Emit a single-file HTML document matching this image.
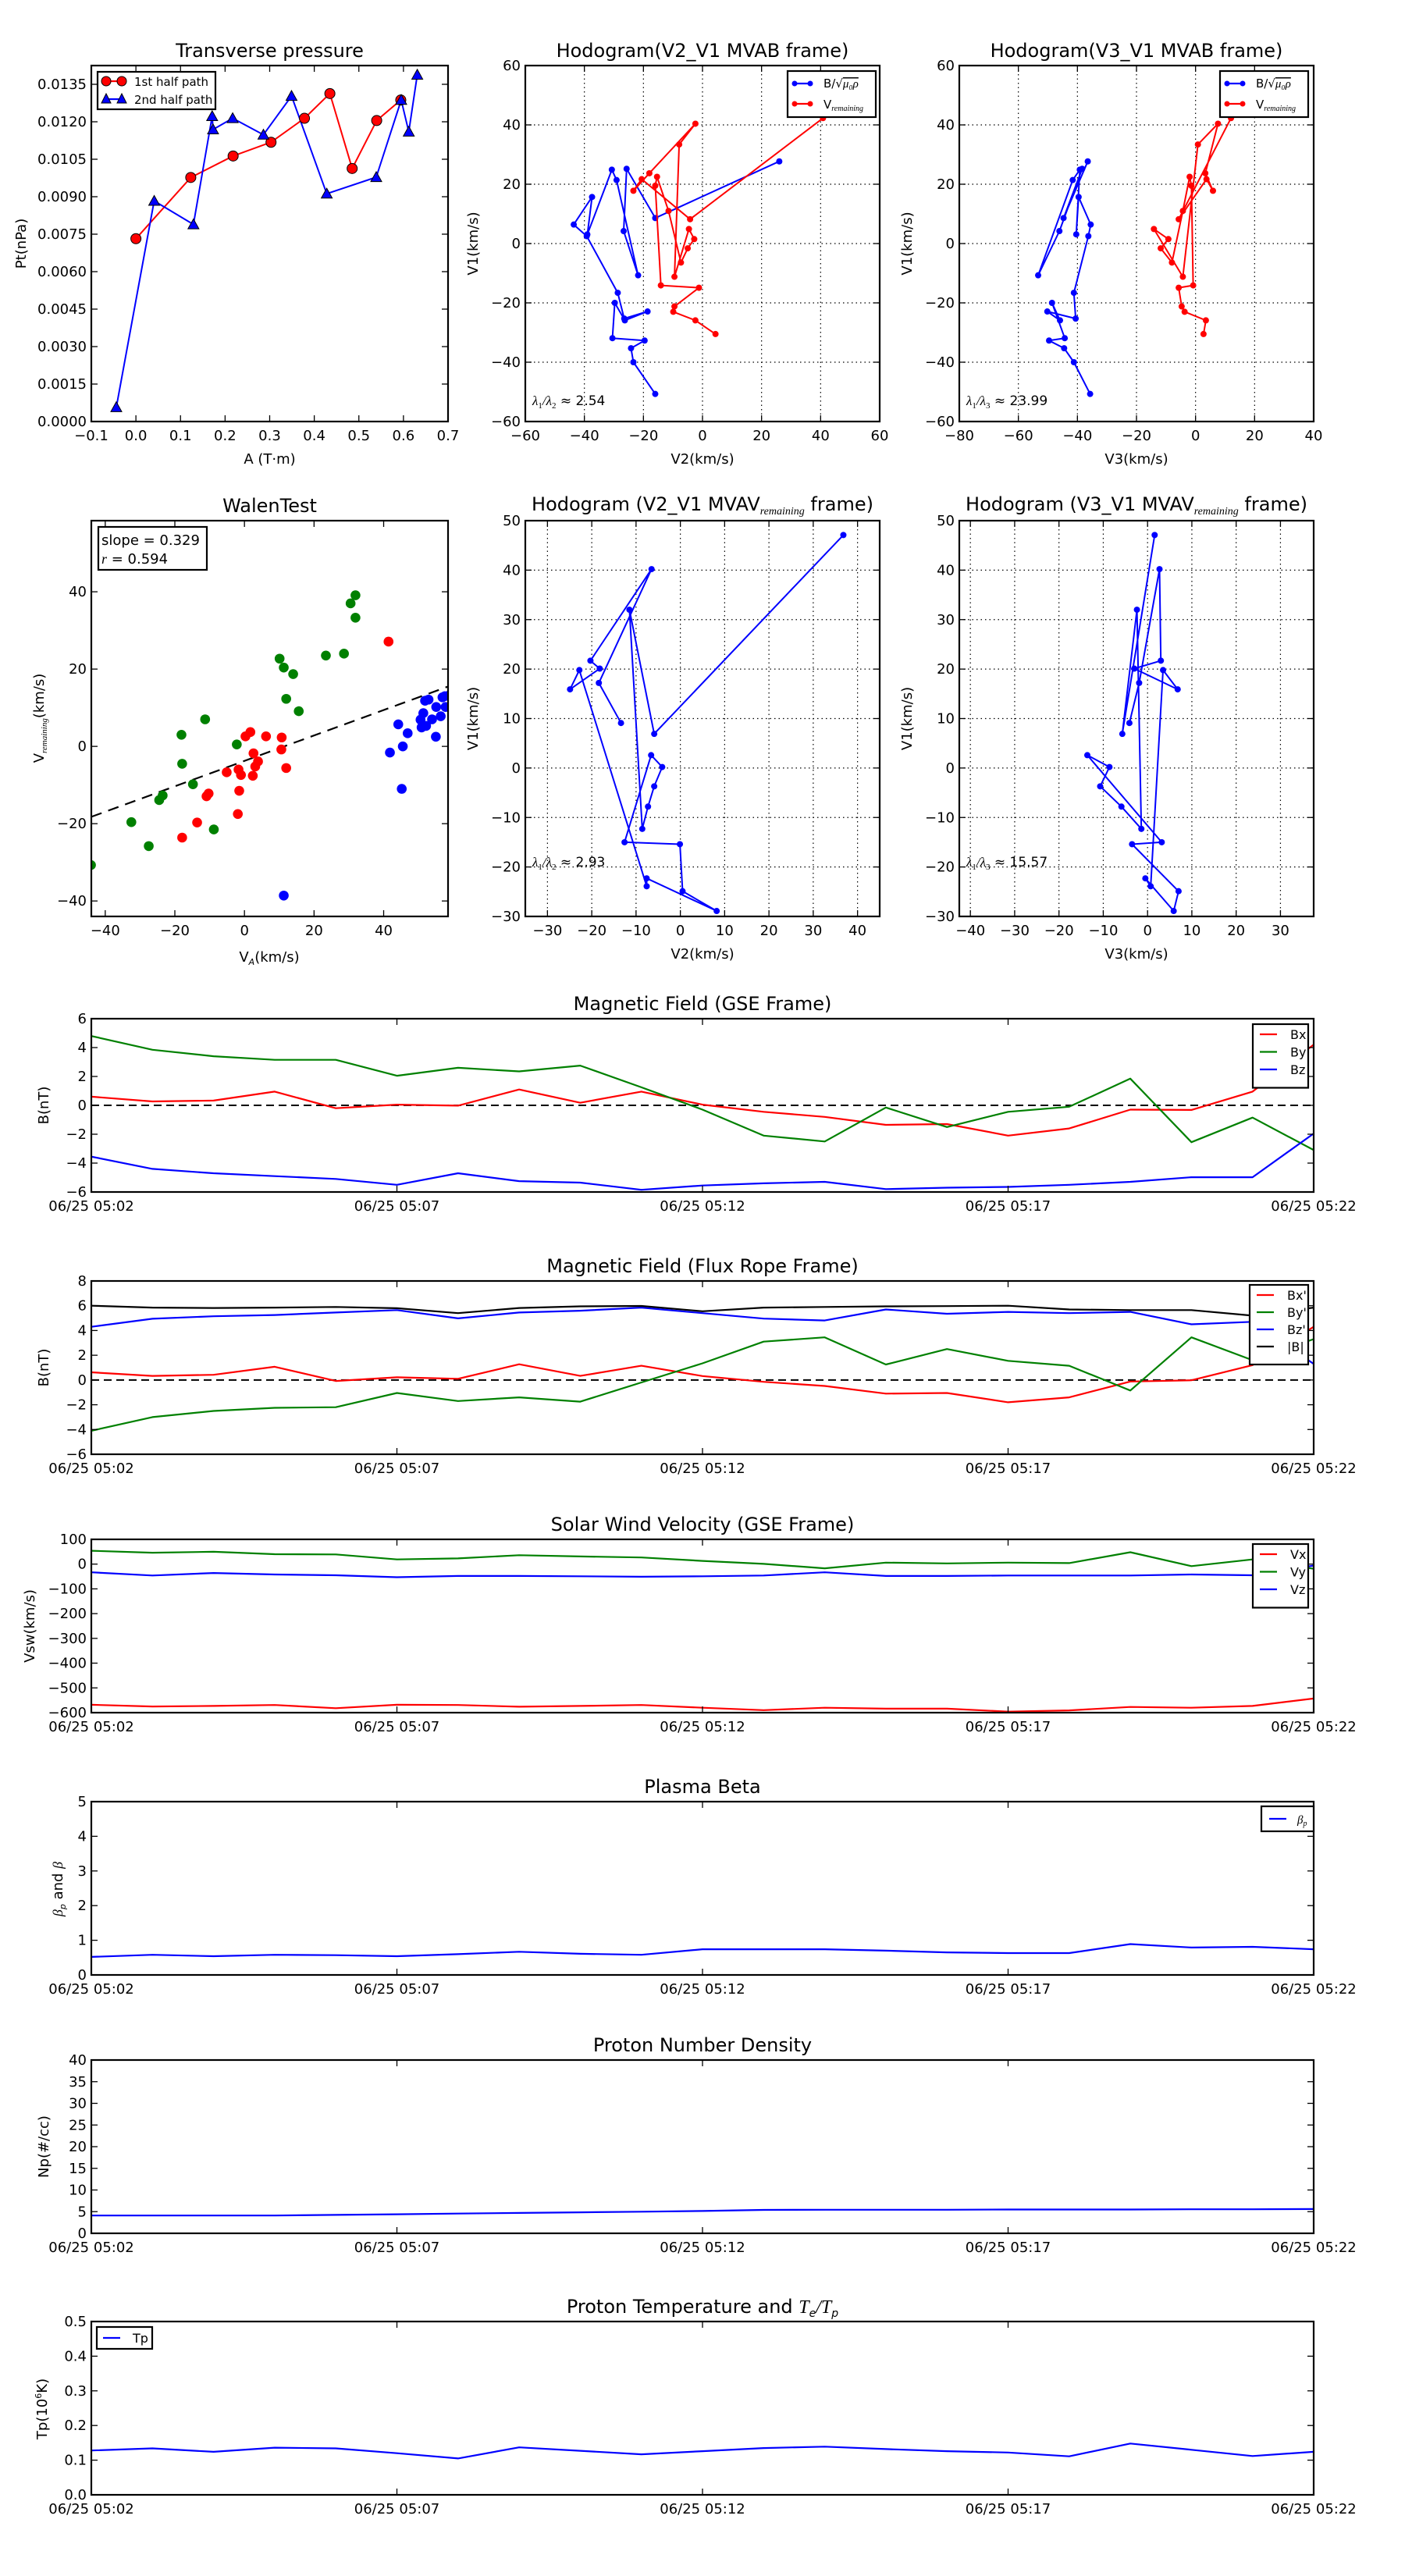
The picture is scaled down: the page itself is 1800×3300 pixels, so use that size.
<!DOCTYPE html>
<html><head><meta charset="utf-8">
<style>
html,body{margin:0;padding:0;background:#fff;}
svg{display:block;font-family:"DejaVu Sans","Liberation Sans",sans-serif;}
</style></head>
<body>
<svg id="fig" xmlns="http://www.w3.org/2000/svg" width="1800" height="3300" viewBox="0 0 1800 3300">
<rect x="0" y="0" width="1800" height="3300" fill="#fff"/>
</svg>
<script>
// ---------- DATA ----------
// Transverse pressure
const tpA1 = [0.0, 0.123, 0.218, 0.303, 0.378, 0.435, 0.485, 0.540, 0.594];
const tpP1 = [0.00732, 0.00977, 0.01063, 0.01118, 0.01214, 0.01313, 0.01013, 0.01205, 0.01287];
const tpA2 = [-0.044, 0.041, 0.129, 0.171, 0.173, 0.217, 0.286, 0.349, 0.428, 0.539, 0.595, 0.612, 0.631];
const tpP2 = [0.00057, 0.00883, 0.00789, 0.01222, 0.01169, 0.01214, 0.01148, 0.01303, 0.00912, 0.00978, 0.01287, 0.01160, 0.01388];
const tpXTicks = [-0.1, 0.0, 0.1, 0.2, 0.3, 0.4, 0.5, 0.6, 0.7];
const tpYTicks = [0, 0.0015, 0.003, 0.0045, 0.006, 0.0075, 0.009, 0.0105, 0.012, 0.0135];
// MVAB hodograms (B and V_remaining)
const mvabB1 = [-50.7,-40,-35.3,-32.7,-31.9,-20,-25.9,-22.9,-25.3,-16.6,2.5,6.4,15.7,3.1,24.9,21.4,-10.7,4.2,25.2,8.6,27.7];
const mvabB2 = [-16,-23.4,-24.2,-19.6,-30.5,-29.7,-26.3,-18.6,-26.5,-28.7,-39.2,-43.6,-37.4,-39,-30.7,-29.1,-21.8,-26.7,-25.7,-16,26];
const mvabB3 = [-35.7,-41.2,-44.5,-49.6,-44.3,-48.6,-45.9,-50.2,-40.6,-41.2,-36.3,-35.5,-39.6,-40.4,-39.2,-41.6,-53.3,-46.1,-38.4,-44.7,-36.5];
const mvabV1 = [-30.5,-25.9,-23,-21.2,-14.9,-14.1,19.5,22.5,11,-6.4,-1.6,1.5,4.9,-11.2,33.4,40.4,23.7,17.8,21.7,8.2,42.3];
const mvabV2 = [4.4,-2.4,-9.9,-9.5,-1.2,-14.1,-16,-15.4,-11.5,-7.3,-5,-2.8,-4.6,-9.5,-7.9,-2.4,-18,-23.4,-20.6,-4.2,40.8];
const mvabV3 = [2.7,3.5,-3.7,-4.7,-5.7,-0.8,-1.4,-2,-4.3,-8,-11.8,-9.2,-14.1,-4.3,0.8,7.6,3.3,5.9,3.7,-5.7,12];
// MVAV hodograms
const mvavV1 = [47.1,6.9,32,-12.3,-7.8,-3.7,0.2,2.6,-15,-15.4,-24.9,-28.9,-22.3,-23.9,19.8,15.9,20.1,21.7,40.2,17.2,9.1];
const mvavV2 = [36.8,-5.9,-11.5,-8.6,-7.3,-5.9,-4.1,-6.6,-12.6,-0.1,0.5,8.2,-7.6,-7.6,-22.8,-24.9,-18.2,-20.3,-6.5,-18.4,-13.4];
const mvavV3 = [1.6,-5.7,-2.4,-1.4,-5.9,-10.7,-8.6,-13.6,3.2,-3.5,7,5.9,-0.5,0.7,3.5,6.8,-3,3,2.7,-1.9,-4.1];
// Walen test
const walGX = [-44.1,-32.5,-27.5,-24.5,-23.5,-18.1,-17.9,-14.8,-11.3,-8.8,-2.2,10.1,11.3,12,14,15.6,23.4,28.6,30.5,31.9,31.9];
const walGY = [-30.7,-19.6,-25.8,-13.9,-12.7,3,-4.5,-9.8,7,-21.5,0.5,22.7,20.4,12.3,18.7,9.1,23.5,24,37,39.1,33.3];
const walRX = [-17.9,-13.6,-10.9,-10.3,-5.1,-1.9,-1.7,-1.5,-1,0.3,1.7,2.4,2.6,3.1,3.9,6.2,10.6,10.7,12,41.4];
const walRY = [-23.6,-19.7,-12.9,-12.2,-6.7,-17.5,-6,-11.5,-7.4,2.6,3.7,-7.6,-1.8,-5.2,-3.9,2.6,-0.8,2.3,-5.6,27.1];
const walBX = [11.3,41.8,44.2,45.2,45.5,46.9,50.6,50.9,51.4,51.9,52.2,52.9,53.9,55,55.1,56.4,56.9,57.6,57.8,59];
const walBY = [-38.6,-1.6,5.7,-11,0,3.4,6.9,4.9,8.6,11.8,5.3,12.1,7,2.5,10.2,7.8,12.7,13,10.2,13.3];
const walSlope = 0.329;
const walIntercept = -3.76;
// Time series (one sample per minute 05:02 .. 05:22)
const timeLabels = ["06/25 05:02","06/25 05:07","06/25 05:12","06/25 05:17","06/25 05:22"];
const gseBx = [0.6,0.27,0.33,0.95,-0.2,0.05,-0.02,1.1,0.18,0.95,0.05,-0.45,-0.8,-1.35,-1.3,-2.1,-1.6,-0.3,-0.32,0.95,4.2];
const gseBy = [4.8,3.85,3.4,3.15,3.15,2.05,2.6,2.35,2.75,1.25,-0.3,-2.1,-2.5,-0.15,-1.5,-0.45,-0.1,1.85,-2.55,-0.85,-3.1];
const gseBz = [-3.55,-4.4,-4.7,-4.9,-5.1,-5.5,-4.7,-5.25,-5.35,-5.85,-5.55,-5.4,-5.3,-5.8,-5.7,-5.65,-5.5,-5.3,-4.98,-4.98,-1.95];
const frBx = [0.62,0.33,0.42,1.07,-0.08,0.22,0.1,1.27,0.33,1.15,0.32,-0.15,-0.48,-1.1,-1.05,-1.8,-1.4,-0.12,-0.02,1.2,4.3];
const frBy = [-4.1,-3.0,-2.5,-2.25,-2.2,-1.05,-1.7,-1.4,-1.75,-0.2,1.35,3.1,3.45,1.25,2.5,1.55,1.15,-0.85,3.45,1.6,3.3];
const frBz = [4.3,4.95,5.15,5.25,5.45,5.65,4.98,5.45,5.6,5.85,5.4,4.96,4.81,5.7,5.35,5.5,5.4,5.5,4.5,4.7,1.3];
const frBt = [6.0,5.85,5.82,5.85,5.9,5.8,5.4,5.82,5.95,5.98,5.55,5.85,5.9,5.95,5.97,6.0,5.7,5.65,5.65,5.2,5.85];
const velVx = [-568,-575,-573,-569,-582,-568,-569,-576,-573,-569,-580,-590,-580,-584,-584,-596,-591,-577,-580,-573,-543];
const velVy = [54,46,50,40,39,19,23,36,31,27,13,1,-17,6,3,6,4,48,-8,19,-19];
const velVz = [-33,-46,-36,-42,-45,-53,-48,-48,-49,-51,-49,-46,-33,-48,-48,-46,-46,-46,-42,-45,-6];
const betaP = [0.52,0.58,0.54,0.58,0.57,0.54,0.6,0.67,0.61,0.58,0.74,0.74,0.74,0.7,0.65,0.63,0.63,0.89,0.79,0.81,0.74];
const densNp = [4.1,4.1,4.1,4.1,4.25,4.4,4.55,4.7,4.85,5.0,5.15,5.4,5.45,5.45,5.45,5.5,5.5,5.5,5.55,5.55,5.6];
const tempTp = [0.128,0.134,0.124,0.136,0.134,0.12,0.105,0.137,0.127,0.117,0.126,0.135,0.139,0.132,0.126,0.122,0.111,0.148,0.13,0.112,0.124];

// ---------- HELPERS ----------
const NS = "http://www.w3.org/2000/svg";
const svg = document.getElementById('fig');
let clipId = 0;
function el(tag, attrs, parent){
  const e = document.createElementNS(NS, tag);
  for (const k in attrs) e.setAttribute(k, attrs[k]);
  (parent || svg).appendChild(e);
  return e;
}
function fmtNum(v, dec){
  const s = Math.abs(v).toFixed(dec);
  return (v < -1e-12 ? "\u2212" : "") + s;
}
function txt(parent, x, y, str, size, anchor, name, extra){
  const a = Object.assign({x:x, y:y, 'font-size':size, 'text-anchor':anchor||'middle', fill:'#000'}, extra||{});
  const t = el('text', a, parent);
  t.textContent = str;
  
  
  return t;
}
function makeAxes(name, L, R, T, B, xmin, xmax, ymin, ymax, o){
  const g = el('g', {});
  
  
  const sx = v => L + (v - xmin) / (xmax - xmin) * (R - L);
  const sy = v => B - (v - ymin) / (ymax - ymin) * (B - T);
  const cid = 'clip' + (clipId++);
  const cp = el('clipPath', {id: cid}, g);
  el('rect', {x: L, y: T, width: R - L, height: B - T}, cp);
  const fs = o.fs || 18;
  // grid
  if (o.grid){
    o.xticks.forEach(v => {
      if (v > xmin && v < xmax){
        const gl = el('line', {x1: sx(v), x2: sx(v), y1: T, y2: B, stroke: '#000', 'stroke-width': 1.2, 'stroke-dasharray': '1.5,4'}, g);
        
        
      }
    });
    o.yticks.forEach(v => {
      if (v > ymin && v < ymax){
        const gl = el('line', {x1: L, x2: R, y1: sy(v), y2: sy(v), stroke: '#000', 'stroke-width': 1.2, 'stroke-dasharray': '1.5,4'}, g);
        
        
      }
    });
  }
  const plot = el('g', {'clip-path': 'url(#' + cid + ')'}, g);
  
  
  // ticks + labels
  o.xticks.forEach((v, i) => {
    const x = sx(v);
    el('line', {x1: x, x2: x, y1: B, y2: B - 8, stroke: '#000', 'stroke-width': 1.3}, g);
    el('line', {x1: x, x2: x, y1: T, y2: T + 8, stroke: '#000', 'stroke-width': 1.3}, g);
    const lab = o.xlabels ? o.xlabels[i] : fmtNum(v, o.xdec || 0);
    txt(g, x, B + 24, lab, fs, 'middle', 'x-tick-label');
  });
  o.yticks.forEach((v, i) => {
    const y = sy(v);
    el('line', {x1: L, x2: L + 8, y1: y, y2: y, stroke: '#000', 'stroke-width': 1.3}, g);
    el('line', {x1: R, x2: R - 8, y1: y, y2: y, stroke: '#000', 'stroke-width': 1.3}, g);
    const lab = o.ylabels ? o.ylabels[i] : fmtNum(v, o.ydec || 0);
    txt(g, L - 6, y + 6, lab, fs, 'end', 'y-tick-label');
  });
  const fr = el('rect', {x: L, y: T, width: R - L, height: B - T, fill: 'none', stroke: '#000', 'stroke-width': 2.2}, g);
  
  
  if (o.title) txt(g, (L + R) / 2, T - 11, o.title, o.tfs || 24, 'middle', 'chart-title');
  if (o.xlabel) txt(g, (L + R) / 2, B + 54, o.xlabel, 18, 'middle', 'x-axis-title');
  if (o.ylabel){
    const yt = txt(g, 0, 0, o.ylabel, 18, 'middle', 'y-axis-title', {transform: 'translate(' + o.ylx + ',' + ((T + B) / 2) + ') rotate(-90)'});
  }
  return {sx, sy, g, plot, L, R, T, B};
}
function polyline(ax, xs, ys, color, width, name, dash){
  const pts = xs.map((x, i) => ax.sx(x).toFixed(1) + ',' + ax.sy(ys[i]).toFixed(1)).join(' ');
  const a = {points: pts, fill: 'none', stroke: color, 'stroke-width': width, 'stroke-linejoin': 'round'};
  if (dash) a['stroke-dasharray'] = dash;
  const p = el('polyline', a, ax.plot);
  
  
  return p;
}
function dots(ax, xs, ys, color, r, name, stroke){
  xs.forEach((x, i) => {
    const c = el('circle', {cx: ax.sx(x), cy: ax.sy(ys[i]), r: r, fill: color, stroke: stroke || 'none', 'stroke-width': 1}, ax.plot);
    
    
  });
}
function triangles(ax, xs, ys, color, s, name){
  xs.forEach((x, i) => {
    const cx = ax.sx(x), cy = ax.sy(ys[i]);
    const t = el('polygon', {points: cx + ',' + (cy - s) + ' ' + (cx - s) + ',' + (cy + s * 0.8) + ' ' + (cx + s) + ',' + (cy + s * 0.8), fill: color, stroke: '#000', 'stroke-width': 1}, ax.plot);
    
    
  });
}
function legendBox(x, y, w, h, name){
  const r = el('rect', {x: x, y: y, width: w, height: h, fill: '#fff', stroke: '#000', 'stroke-width': 2.2});
  
  
  return r;
}
function legendLine(x1, x2, y, color, name){
  const l = el('line', {x1: x1, x2: x2, y1: y, y2: y, stroke: color, 'stroke-width': 2.2});
  
  
}
const range21 = Array.from({length: 21}, (_, i) => i);

// ---------- Transverse pressure ----------
const ax1 = makeAxes('transverse-pressure-chart', 117, 574, 84, 540, -0.1, 0.7, 0, 0.01425,
  {xticks: tpXTicks, xdec: 1, yticks: tpYTicks, ydec: 4, title: 'Transverse pressure', xlabel: 'A (T\u00b7m)', ylabel: 'Pt(nPa)', ylx: 33});
polyline(ax1, tpA1, tpP1, '#f00', 2, 'first-half-path-line');
polyline(ax1, tpA2, tpP2, '#00f', 2, 'second-half-path-line');
dots(ax1, tpA1, tpP1, '#f00', 6.5, 'first-half-point', '#000');
triangles(ax1, tpA2, tpP2, '#00f', 7, 'second-half-point');
legendBox(125, 92, 151, 48, 'pressure-legend');
legendLine(135, 156, 104, '#f00', 'legend-1st-half');
{ const c1 = el('circle', {cx: 136, cy: 104, r: 6, fill: '#f00', stroke: '#000'});  
  const c2 = el('circle', {cx: 156, cy: 104, r: 6, fill: '#f00', stroke: '#000'});   }
txt(svg, 172, 110, '1st half path', 15, 'start', 'legend-label-1st-half');
legendLine(135, 156, 127, '#00f', 'legend-2nd-half');
{ const t1 = el('polygon', {points: '136,120 130,132 142,132', fill: '#00f', stroke: '#000'});  
  const t2 = el('polygon', {points: '156,120 150,132 162,132', fill: '#00f', stroke: '#000'});   }
txt(svg, 172, 133, '2nd half path', 15, 'start', 'legend-label-2nd-half');

// ---------- Hodogram legends ----------
function hodoLegend(x, name){
  legendBox(x, 91, 113, 59, name);
  legendLine(x + 8, x + 30, 107, '#00f', 'legend-b-line');
  { const a = el('circle', {cx: x + 9, cy: 107, r: 3.5, fill: '#00f'});  
    const b = el('circle', {cx: x + 29, cy: 107, r: 3.5, fill: '#00f'});   }
  const t1 = txt(svg, x + 46, 112, 'B/\u221a', 15, 'start', 'legend-label-b');
  const ts = el('tspan', {'font-style': 'italic', 'font-family': '"Liberation Serif",serif', 'text-decoration': 'overline'}, t1);
  ts.textContent = '\u03bc\u2080\u03c1';
  legendLine(x + 8, x + 30, 133, '#f00', 'legend-v-line');
  { const a = el('circle', {cx: x + 9, cy: 133, r: 3.5, fill: '#f00'});  
    const b = el('circle', {cx: x + 29, cy: 133, r: 3.5, fill: '#f00'});   }
  const t2 = txt(svg, x + 46, 139, 'V', 15, 'start', 'legend-label-v');
  const s2 = el('tspan', {'font-size': 10, 'font-style': 'italic', 'font-family': '"Liberation Serif",serif', dy: 3}, t2);
  s2.textContent = 'remaining';
}
function lambdaText(ax, x, y, sub2, val, name){
  const t = txt(svg, x, y, '', 17, 'start', name, {'font-family': '"Liberation Serif",serif'});
  const a = el('tspan', {'font-style': 'italic'}, t); a.textContent = '\u03bb';
  const b = el('tspan', {'font-size': 11, dy: 4}, t); b.textContent = '1';
  const c = el('tspan', {dy: -4, 'font-style': 'italic'}, t); c.textContent = '/\u03bb';
  const d = el('tspan', {'font-size': 11, dy: 4}, t); d.textContent = sub2;
  const e = el('tspan', {dy: -4, 'font-family': '"DejaVu Sans",sans-serif'}, t); e.textContent = ' \u2248 ' + val;
}

// ---------- Hodogram V2_V1 MVAB ----------
const ax2 = makeAxes('hodogram-v2-v1-mvab', 673, 1127, 84, 540, -60, 60, -60, 60,
  {xticks: [-60,-40,-20,0,20,40,60], yticks: [-60,-40,-20,0,20,40,60], grid: true, title: 'Hodogram(V2_V1 MVAB frame)', xlabel: 'V2(km/s)', ylabel: 'V1(km/s)', ylx: 612});
polyline(ax2, mvabB2, mvabB1, '#00f', 2, 'b-hodogram-line');
dots(ax2, mvabB2, mvabB1, '#00f', 4, 'b-hodogram-point');
polyline(ax2, mvabV2, mvabV1, '#f00', 2, 'v-hodogram-line');
dots(ax2, mvabV2, mvabV1, '#f00', 4, 'v-hodogram-point');
hodoLegend(1009, 'hodogram-legend-v2');
lambdaText(ax2, 682, 519, '2', '2.54', 'eigenvalue-ratio-label');

// ---------- Hodogram V3_V1 MVAB ----------
const ax3 = makeAxes('hodogram-v3-v1-mvab', 1229, 1683, 84, 540, -80, 40, -60, 60,
  {xticks: [-80,-60,-40,-20,0,20,40], yticks: [-60,-40,-20,0,20,40,60], grid: true, title: 'Hodogram(V3_V1 MVAB frame)', xlabel: 'V3(km/s)', ylabel: 'V1(km/s)', ylx: 1168});
polyline(ax3, mvabB3, mvabB1, '#00f', 2, 'b-hodogram-line');
dots(ax3, mvabB3, mvabB1, '#00f', 4, 'b-hodogram-point');
polyline(ax3, mvabV3, mvabV1, '#f00', 2, 'v-hodogram-line');
dots(ax3, mvabV3, mvabV1, '#f00', 4, 'v-hodogram-point');
hodoLegend(1563, 'hodogram-legend-v3');
lambdaText(ax3, 1238, 519, '3', '23.99', 'eigenvalue-ratio-label');

// ---------- Walen test ----------
const ax4 = makeAxes('walen-test-chart', 117, 574, 667, 1174, -44, 58.5, -44, 58.4,
  {xticks: [-40,-20,0,20,40], yticks: [-40,-20,0,20,40], title: 'WalenTest', ylx: 52});
{
  const lx = [-44, 58.5];
  const ly = lx.map(v => walSlope * v + walIntercept);
  polyline(ax4, lx, ly, '#000', 2.2, 'regression-line', '14,9');
}
dots(ax4, walGX, walGY, '#008000', 6.3, 'walen-point-green');
dots(ax4, walRX, walRY, '#f00', 6.3, 'walen-point-red');
dots(ax4, walBX, walBY, '#00f', 6.3, 'walen-point-blue');
{
  const yt = txt(svg, 0, 0, 'V', 18, 'middle', 'y-axis-title', {transform: 'translate(56,920) rotate(-90)'});
  const s = el('tspan', {'font-size': 11, 'font-style': 'italic', 'font-family': '"Liberation Serif",serif', dy: 4}, yt); s.textContent = 'remaining';
  const s2 = el('tspan', {dy: -4}, yt); s2.textContent = '(km/s)';
  const xt = txt(svg, 345, 1232, 'V', 18, 'middle', 'x-axis-title');
  const s3 = el('tspan', {'font-size': 11, 'font-style': 'italic', dy: 4}, xt); s3.textContent = 'A';
  const s4 = el('tspan', {dy: -4}, xt); s4.textContent = '(km/s)';
}
legendBox(126, 675, 139, 55, 'walen-stats-box');
txt(svg, 130, 698, 'slope = 0.329', 18, 'start', 'slope-label');
{ const rt = txt(svg, 130, 722, '', 18, 'start', 'r-label');
  const a = el('tspan', {'font-style': 'italic', 'font-family': '"Liberation Serif",serif'}, rt); a.textContent = 'r';
  const b = el('tspan', {}, rt); b.textContent = ' = 0.594'; }

// ---------- MVAV hodograms ----------
function mvavTitle(ax, v){
  const t = txt(svg, (ax.L + ax.R) / 2, ax.T - 13, 'Hodogram (' + v + '_V1 MVAV', 24, 'middle', 'chart-title');
  const s = el('tspan', {'font-size': 14, 'font-style': 'italic', 'font-family': '"Liberation Serif",serif', dy: 5}, t); s.textContent = 'remaining';
  const s2 = el('tspan', {dy: -5}, t); s2.textContent = ' frame)';
}
const ax5 = makeAxes('hodogram-v2-v1-mvav', 673, 1127, 667, 1174, -35, 45, -30, 50,
  {xticks: [-30,-20,-10,0,10,20,30,40], yticks: [-30,-20,-10,0,10,20,30,40,50], grid: true, xlabel: 'V2(km/s)', ylabel: 'V1(km/s)', ylx: 612});
mvavTitle(ax5, 'V2');
polyline(ax5, mvavV2, mvavV1, '#00f', 2, 'mvav-hodogram-line');
dots(ax5, mvavV2, mvavV1, '#00f', 4, 'mvav-hodogram-point');
lambdaText(ax5, 682, 1110, '2', '2.93', 'eigenvalue-ratio-label');

const ax6 = makeAxes('hodogram-v3-v1-mvav', 1229, 1683, 667, 1174, -42.5, 37.5, -30, 50,
  {xticks: [-40,-30,-20,-10,0,10,20,30], yticks: [-30,-20,-10,0,10,20,30,40,50], grid: true, xlabel: 'V3(km/s)', ylabel: 'V1(km/s)', ylx: 1168});
mvavTitle(ax6, 'V3');
polyline(ax6, mvavV3, mvavV1, '#00f', 2, 'mvav-hodogram-line');
dots(ax6, mvavV3, mvavV1, '#00f', 4, 'mvav-hodogram-point');
lambdaText(ax6, 1238, 1110, '3', '15.57', 'eigenvalue-ratio-label');

// ---------- Time series ----------
const TS_L = 117, TS_R = 1683, TS_H = 222;
function tsAxes(name, T, ymin, ymax, yticks, ydec, title, ylabel, ylx){
  return makeAxes(name, TS_L, TS_R, T, T + TS_H, 0, 20, ymin, ymax,
    {xticks: [0,5,10,15,20], xlabels: timeLabels, yticks: yticks, ydec: ydec, title: title, ylabel: ylabel, ylx: ylx});
}
function zeroLine(ax){
  const z = el('line', {x1: ax.L, x2: ax.R, y1: ax.sy(0), y2: ax.sy(0), stroke: '#000', 'stroke-width': 2, 'stroke-dasharray': '10,6'}, ax.plot);
  
  
}
function tsLegend(x, y, w, items, rowH, name){
  legendBox(x, y, w, 14 + rowH * items.length, name);
  items.forEach((it, i) => {
    const yy = y + 13 + rowH * i;
    legendLine(x + 9, x + 31, yy, it[1], 'legend-line-' + i);
    txt(svg, x + 48, yy + 6, it[0], 16, 'start', 'legend-label');
  });
}

const axB = tsAxes('magnetic-field-gse-chart', 1305, -6, 6, [-6,-4,-2,0,2,4,6], 0, 'Magnetic Field (GSE Frame)', 'B(nT)', 62);
zeroLine(axB);
polyline(axB, range21, gseBx, '#f00', 2.2, 'bx-line');
polyline(axB, range21, gseBy, '#008000', 2.2, 'by-line');
polyline(axB, range21, gseBz, '#00f', 2.2, 'bz-line');
tsLegend(1605, 1312, 71, [['Bx','#f00'],['By','#008000'],['Bz','#00f']], 22.5, 'gse-legend');

const axF = tsAxes('magnetic-field-flux-rope-chart', 1641, -6, 8, [-6,-4,-2,0,2,4,6,8], 0, 'Magnetic Field (Flux Rope Frame)', 'B(nT)', 62);
zeroLine(axF);
polyline(axF, range21, frBx, '#f00', 2.2, 'bx-prime-line');
polyline(axF, range21, frBy, '#008000', 2.2, 'by-prime-line');
polyline(axF, range21, frBz, '#00f', 2.2, 'bz-prime-line');
polyline(axF, range21, frBt, '#000', 2.2, 'b-magnitude-line');
tsLegend(1601, 1646, 75, [["Bx'",'#f00'],["By'",'#008000'],["Bz'",'#00f'],['|B|','#000']], 22, 'flux-rope-legend');

const axV = tsAxes('solar-wind-velocity-chart', 1972, -600, 100, [-600,-500,-400,-300,-200,-100,0,100], 0, 'Solar Wind Velocity (GSE Frame)', 'Vsw(km/s)', 44);
polyline(axV, range21, velVx, '#f00', 2.2, 'vx-line');
polyline(axV, range21, velVy, '#008000', 2.2, 'vy-line');
polyline(axV, range21, velVz, '#00f', 2.2, 'vz-line');
tsLegend(1605, 1978, 71, [['Vx','#f00'],['Vy','#008000'],['Vz','#00f']], 22.5, 'velocity-legend');

const axBeta = tsAxes('plasma-beta-chart', 2308, 0, 5, [0,1,2,3,4,5], 0, 'Plasma Beta', '', 62);
polyline(axBeta, range21, betaP, '#00f', 2.2, 'beta-line');
{
  const yt = txt(svg, 0, 0, '', 18, 'middle', 'y-axis-title', {transform: 'translate(80,2420) rotate(-90)'});
  const a = el('tspan', {'font-style': 'italic', 'font-family': '"Liberation Serif",serif'}, yt); a.textContent = '\u03b2';
  const b = el('tspan', {'font-size': 11, 'font-style': 'italic', dy: 4}, yt); b.textContent = 'p';
  const c = el('tspan', {dy: -4}, yt); c.textContent = ' and ';
  const d = el('tspan', {'font-style': 'italic', 'font-family': '"Liberation Serif",serif'}, yt); d.textContent = '\u03b2';
  legendBox(1616, 2314, 67, 32, 'beta-legend');
  legendLine(1626, 1648, 2330, '#00f', 'legend-line-beta');
  const lt = txt(svg, 1662, 2336, '\u03b2', 15, 'start', 'legend-label', {'font-style': 'italic', 'font-family': '"Liberation Serif",serif'});
  const s = el('tspan', {'font-size': 10, dy: 3}, lt); s.textContent = 'p';
}

const axN = tsAxes('proton-density-chart', 2639, 0, 40, [0,5,10,15,20,25,30,35,40], 0, 'Proton Number Density', 'Np(#/cc)', 62);
polyline(axN, range21, densNp, '#00f', 2.2, 'density-line');

const axT = tsAxes('proton-temperature-chart', 2974, 0, 0.5, [0,0.1,0.2,0.3,0.4,0.5], 1, '', '', 58);
polyline(axT, range21, tempTp, '#00f', 2.2, 'temperature-line');
{
  const tt = txt(svg, 900, 2963, 'Proton Temperature and ', 24, 'middle', 'chart-title');
  const a = el('tspan', {'font-style': 'italic', 'font-family': '"Liberation Serif",serif'}, tt); a.textContent = 'T';
  const b = el('tspan', {'font-size': 14, 'font-style': 'italic', dy: 5}, tt); b.textContent = 'e';
  const c = el('tspan', {dy: -5, 'font-style': 'italic', 'font-family': '"Liberation Serif",serif'}, tt); c.textContent = '/T';
  const d = el('tspan', {'font-size': 14, 'font-style': 'italic', dy: 5}, tt); d.textContent = 'p';
  const yt = txt(svg, 0, 0, 'Tp(10', 18, 'middle', 'y-axis-title', {transform: 'translate(60,3086) rotate(-90)'});
  const e = el('tspan', {'font-size': 11, dy: -7}, yt); e.textContent = '6';
  const f = el('tspan', {dy: 7}, yt); f.textContent = 'K)';
  legendBox(124, 2981, 71, 28, 'temperature-legend');
  legendLine(132, 154, 2995, '#00f', 'legend-line-tp');
  txt(svg, 170, 3001, 'Tp', 16, 'start', 'legend-label');
}
</script>
</body></html>
